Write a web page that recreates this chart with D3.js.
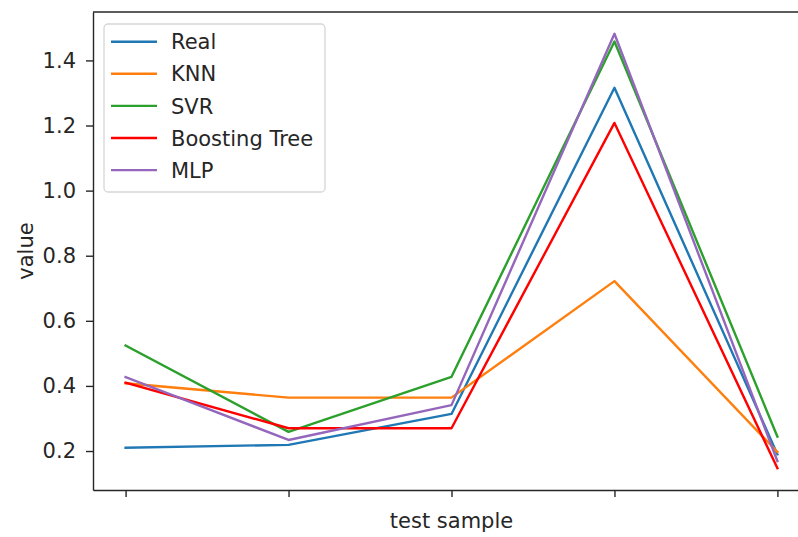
<!DOCTYPE html>
<html>
<head>
<meta charset="utf-8">
<script src="https://cdn.jsdelivr.net/npm/d3@7"></script>
<style>
  html, body { margin: 0; padding: 0; background: #fff; }
  svg { display: block; }
  text { font-family: "DejaVu Sans", sans-serif; fill: #262626; }
</style>
</head>
<body>
<svg id="chart" width="798" height="537"></svg>
<script>
// Test samples along the x axis (no tick labels are shown)
const samples = [0, 1, 2, 3, 4];

// Predicted / real values per model
const real     = [0.210, 0.219, 0.314, 1.316, 0.190];
const knn      = [0.408, 0.364, 0.364, 0.722, 0.197];
const svr      = [0.524, 0.259, 0.428, 1.458, 0.244];
const boosting = [0.410, 0.270, 0.270, 1.208, 0.147];
const mlp      = [0.427, 0.234, 0.341, 1.482, 0.169];

const seriesNames  = ["Real", "KNN", "SVR", "Boosting Tree", "MLP"];
const seriesValues = [real, knn, svr, boosting, mlp];
const seriesColors = ["#1f77b4", "#ff7f0e", "#2ca02c", "#ff0000", "#9467bd"];

const yTicks = [0.2, 0.4, 0.6, 0.8, 1.0, 1.2, 1.4];

const fontSize = 21;
const svg = d3.select("#chart");

// Plot area
const plotLeft = 93, plotRight = 810, plotTop = 12, plotBottom = 490;

// Matplotlib-style 5% margins around the data
const xPad = (d3.max(samples) - d3.min(samples)) * 0.05;
const x = d3.scaleLinear()
  .domain([d3.min(samples) - xPad, d3.max(samples) + xPad])
  .range([plotLeft, plotRight]);

const allVals = seriesValues.flat();
const yMin = d3.min(allVals), yMax = d3.max(allVals);
const yPad = (yMax - yMin) * 0.05;
const y = d3.scaleLinear()
  .domain([yMin - yPad, yMax + yPad])
  .range([plotBottom, plotTop]);

// Lines
const line = d3.line()
  .x((d, i) => x(samples[i]))
  .y(d => y(d));

seriesValues.forEach((vals, k) => {
  svg.append("path")
    .datum(vals)
    .attr("fill", "none")
    .attr("stroke", seriesColors[k])
    .attr("stroke-width", 2.4)
    .attr("stroke-linejoin", "round")
    .attr("stroke-linecap", "square")
    .attr("d", line);
});

// Axes
const xAxis = svg.append("g")
  .attr("transform", `translate(0,${plotBottom})`)
  .call(d3.axisBottom(x).tickValues(samples).tickFormat("").tickSize(7).tickSizeOuter(0));

const yAxis = svg.append("g")
  .attr("transform", `translate(${plotLeft},0)`)
  .call(d3.axisLeft(y).tickValues(yTicks).tickFormat(d3.format(".1f")).tickSize(7).tickSizeOuter(0).tickPadding(10));

[xAxis, yAxis].forEach(g => {
  g.select(".domain").attr("stroke", "#262626").attr("stroke-width", 1.4);
  g.selectAll(".tick line").attr("stroke", "#262626").attr("stroke-width", 1.4);
  g.selectAll(".tick text")
    .attr("font-family", "DejaVu Sans, sans-serif")
    .attr("font-size", fontSize)
    .attr("fill", "#262626");
});

// Top and right spines
svg.append("line")
  .attr("x1", plotLeft).attr("x2", plotRight)
  .attr("y1", plotTop).attr("y2", plotTop)
  .attr("stroke", "#262626").attr("stroke-width", 1.4);
svg.append("line")
  .attr("x1", plotRight).attr("x2", plotRight)
  .attr("y1", plotTop).attr("y2", plotBottom)
  .attr("stroke", "#262626").attr("stroke-width", 1.4);

// Axis titles
svg.append("text")
  .attr("x", (x(0) + x(4)) / 2)
  .attr("y", 528)
  .attr("text-anchor", "middle")
  .attr("font-size", fontSize)
  .text("test sample");

svg.append("text")
  .attr("transform", `translate(33,251) rotate(-90)`)
  .attr("text-anchor", "middle")
  .attr("font-size", fontSize)
  .text("value");

// Legend
const legend = svg.append("g").attr("transform", "translate(104,24)");
legend.append("rect")
  .attr("x", 0).attr("y", 0)
  .attr("width", 221).attr("height", 168)
  .attr("rx", 4).attr("ry", 4)
  .attr("fill", "#fff").attr("fill-opacity", 0.8)
  .attr("stroke", "#d6d6d6").attr("stroke-width", 1.3);

seriesNames.forEach((name, k) => {
  const cy = 17.7 + k * 32.1;
  legend.append("line")
    .attr("x1", 7).attr("x2", 53)
    .attr("y1", cy).attr("y2", cy)
    .attr("stroke", seriesColors[k]).attr("stroke-width", 2.4);
  legend.append("text")
    .attr("x", 67).attr("y", cy + 7.6)
    .attr("font-size", fontSize)
    .text(name);
});
</script>
</body>
</html>
